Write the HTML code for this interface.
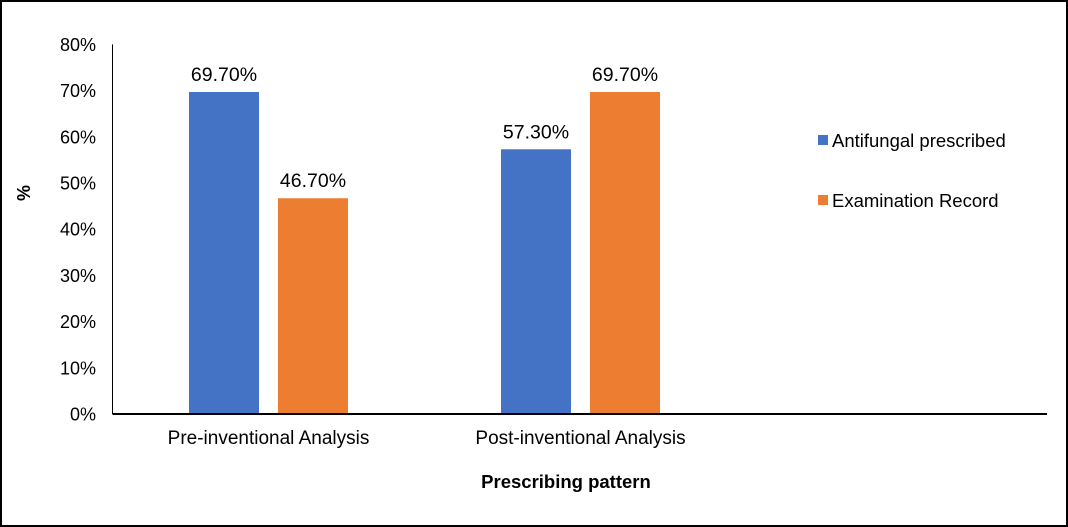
<!DOCTYPE html>
<html><head><meta charset="utf-8"><style>
html,body{margin:0;padding:0;background:#fff}
svg{display:block;font-family:"Liberation Sans",Arial,sans-serif}
</style></head><body>
<svg width="1068" height="527" xmlns="http://www.w3.org/2000/svg">
<rect x="1" y="1" width="1066" height="525" fill="#fff" stroke="#000" stroke-width="2"/>
<g id="plot"></g>
</svg>
<script>
const categories = ["Pre-inventional Analysis", "Post-inventional Analysis"];
const antifungal = [69.7, 57.3];
const examination = [46.7, 69.7];
const yTicks = [0, 10, 20, 30, 40, 50, 60, 70, 80];
const seriesNames = ["Antifungal prescribed", "Examination Record"];

const NS = "http://www.w3.org/2000/svg";
const g = document.getElementById("plot");
const x0 = 112.5, slot = 312, base = 414, yTop = 44.4, yMax = 80;
const y = v => base - (v / yMax) * (base - yTop);
function mk(tag, attrs, text) {
  const e = document.createElementNS(NS, tag);
  for (const k in attrs) e.setAttribute(k, attrs[k]);
  if (text !== undefined) e.textContent = text;
  g.appendChild(e);
  return e;
}
yTicks.forEach(t => {
  const e = mk("text", {x: 96, y: y(t) + 6.5, "text-anchor": "end", "font-size": 18, fill: "#000"}, t + "%");
  
  
});
const colors = ["#4472c4", "#ed7d31"];
const series = [antifungal, examination];
categories.forEach((c, i) => {
  const cx = x0 + slot * (i + 0.5);
  series.forEach((s, j) => {
    const bx = cx - 79.5 + j * 89;
    const r = mk("rect", {x: bx, y: y(s[i]), width: 70, height: base - y(s[i]), fill: colors[j]});
    
    
    const l = mk("text", {x: bx + 35, y: y(s[i]) - 11, "text-anchor": "middle", "font-size": 19.5, fill: "#000"}, s[i].toFixed(2) + "%");
    
    
  });
  const t = mk("text", {x: cx, y: 444, "text-anchor": "middle", "font-size": 19, fill: "#000"}, c);
  
  
});
const ya = mk("line", {x1: x0, y1: yTop, x2: x0, y2: base, stroke: "#000", "stroke-width": 1});


const xa = mk("line", {x1: x0, y1: base, x2: 1047, y2: base, stroke: "#000", "stroke-width": 2});


const xt = mk("text", {x: 566, y: 488, "text-anchor": "middle", "font-size": 18.5, "font-weight": "bold", fill: "#000"}, "Prescribing pattern");


const yt = mk("text", {x: 0, y: 0, "text-anchor": "middle", "font-size": 18, "font-weight": "bold", fill: "#000", transform: "translate(30,193) rotate(-90)"}, "%");


seriesNames.forEach((n, j) => {
  const ly = 141 + j * 60;
  const s = mk("rect", {x: 818, y: ly - 6, width: 10, height: 10, fill: colors[j]});
  
  
  const t = mk("text", {x: 832, y: ly + 6, "font-size": 18.5, fill: "#000"}, n);
  
  
});
</script>
</body></html>
